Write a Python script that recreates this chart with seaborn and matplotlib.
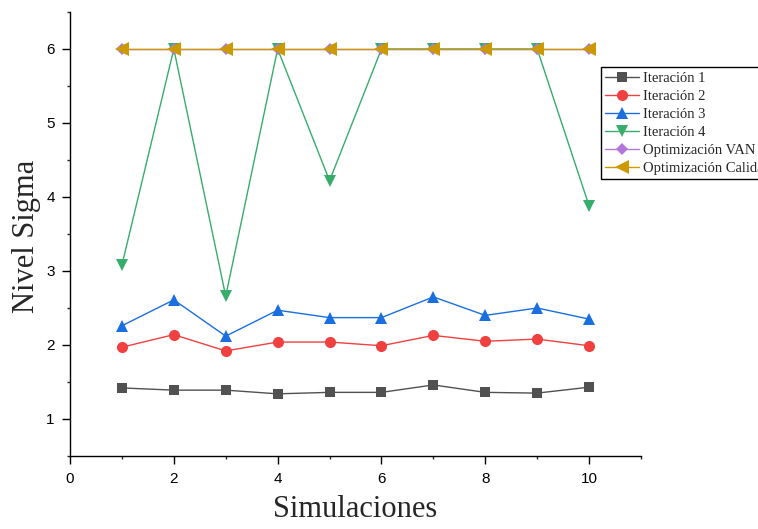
import matplotlib
matplotlib.use("Agg")
import matplotlib.pyplot as plt
import seaborn as sns
import pandas as pd
from matplotlib.ticker import MultipleLocator

simulaciones = [1, 2, 3, 4, 5, 6, 7, 8, 9, 10]
iteracion_1 = [1.42, 1.39, 1.39, 1.34, 1.36, 1.36, 1.46, 1.36, 1.35, 1.43]
iteracion_2 = [1.97, 2.14, 1.92, 2.04, 2.04, 1.99, 2.13, 2.05, 2.08, 1.99]
iteracion_3 = [2.26, 2.61, 2.12, 2.47, 2.37, 2.37, 2.65, 2.40, 2.50, 2.35]
iteracion_4 = [3.08, 6.00, 2.66, 6.00, 4.22, 6.00, 6.00, 6.00, 6.00, 3.88]
optim_van = [6, 6, 6, 6, 6, 6, 6, 6, 6, 6]
optim_calidad = [6, 6, 6, 6, 6, 6, 6, 6, 6, 6]

series_names = ["Iteración 1", "Iteración 2", "Iteración 3", "Iteración 4",
                "Optimización VAN", "Optimización Calidad"]
series_values = [iteracion_1, iteracion_2, iteracion_3, iteracion_4, optim_van, optim_calidad]
colors = ["#515151", "#F14040", "#1A6FDF", "#37AD6B", "#B177DE", "#CC9900"]
markers = ["s", "o", "^", "v", "D", "<"]
msizes = [7.5, 8, 9, 9, 6.5, 9.5]

sns.set_theme(style="ticks")
plt.rcParams["font.family"] = ["Liberation Sans", "DejaVu Sans"]

rows = []
for name, vals in zip(series_names, series_values):
    for x, v in zip(simulaciones, vals):
        rows.append({"Simulaciones": x, "Nivel": v, "Serie": name})
df = pd.DataFrame(rows)

fig = plt.figure(figsize=(7.58, 5.29), dpi=100)
ax = fig.add_axes([70 / 758, 1 - 456 / 529, 571 / 758, 444 / 529])

for name, c, m, ms in zip(series_names, colors, markers, msizes):
    sub = df[df["Serie"] == name]
    sns.lineplot(data=sub, x="Simulaciones", y="Nivel", ax=ax, color=c,
                 marker=m, markersize=ms, markeredgewidth=0, linewidth=1.0,
                 label=name, legend=False)

ax.set_xlim(0, 11)
ax.set_ylim(0.5, 6.5)
ax.xaxis.set_major_locator(MultipleLocator(2))
ax.xaxis.set_minor_locator(MultipleLocator(1))
ax.yaxis.set_major_locator(MultipleLocator(1))
ax.yaxis.set_minor_locator(MultipleLocator(0.5))
ax.tick_params(which="major", direction="out", length=5.5, width=1, labelsize=11,
               colors="black")
ax.tick_params(axis="x", which="major", pad=6)
ax.tick_params(axis="y", which="major", pad=5.5)
ax.tick_params(which="minor", direction="out", length=2.5, width=1)
for s in ["top", "right"]:
    ax.spines[s].set_visible(False)
for s in ["left", "bottom"]:
    ax.spines[s].set_color("black")
    ax.spines[s].set_linewidth(1)

ax.set_xlabel("Simulaciones", fontfamily="Liberation Serif", fontsize=22)
ax.set_ylabel("Nivel Sigma", fontfamily="Liberation Serif", fontsize=22)
ax.xaxis.set_label_coords(0.5, -0.088)
ax.yaxis.set_label_coords(-0.051, 0.495)

leg = ax.legend(loc="upper left", bbox_to_anchor=(0.93, 0.876), frameon=True,
                fancybox=False, edgecolor="black", framealpha=1,
                prop={"family": "Liberation Serif", "size": 10.5},
                handlelength=2.3, labelspacing=0.33, borderpad=0.3,
                handletextpad=0.3, borderaxespad=0)
leg.get_frame().set_linewidth(1)

fig.savefig("out.png", dpi=100)
